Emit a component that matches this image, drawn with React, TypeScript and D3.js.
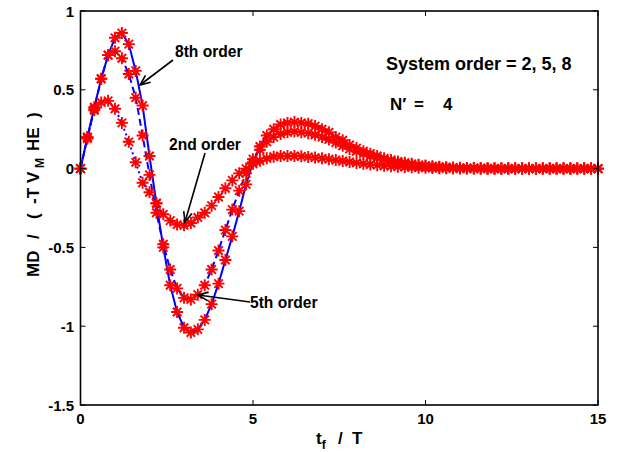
import React from "react";
import * as d3 from "d3";

const tStep = 0.2;
const order8 = [
  0, 0.2, 0.39, 0.57, 0.72, 0.83, 0.86, 0.79, 0.62, 0.4,
  0.08, -0.22, -0.5, -0.74, -0.91, -1.01, -1.04, -1.02, -0.96, -0.86,
  -0.73, -0.58, -0.43, -0.27, -0.1, 0.04, 0.14, 0.21, 0.25, 0.28,
  0.29, 0.295, 0.29, 0.285, 0.27, 0.25, 0.23, 0.2, 0.18, 0.15,
  0.13, 0.11, 0.095, 0.08, 0.065, 0.055, 0.045, 0.037, 0.03, 0.024,
  0.019, 0.015, 0.012, 0.009, 0.007, 0.005, 0.004, 0.003, 0.002, 0.001,
  0, 0, 0, 0, 0, 0, 0, 0, 0, 0,
  0, 0, 0, 0, 0, 0,
];
const order5 = [
  0, 0.19, 0.38, 0.57, 0.72, 0.745, 0.7, 0.6, 0.45, 0.21,
  -0.04, -0.28, -0.48, -0.64, -0.76, -0.82, -0.83, -0.8, -0.74, -0.64,
  -0.52, -0.39, -0.26, -0.14, -0.03, 0.06, 0.12, 0.17, 0.2, 0.22,
  0.23, 0.235, 0.23, 0.225, 0.215, 0.2, 0.185, 0.165, 0.145, 0.125,
  0.11, 0.095, 0.08, 0.068, 0.056, 0.046, 0.038, 0.031, 0.025, 0.02,
  0.016, 0.012, 0.009, 0.007, 0.005, 0.004, 0.003, 0.002, 0.001, 0,
  0, 0, 0, 0, 0, 0, 0, 0, 0, 0,
  0, 0, 0, 0, 0, 0,
];
const order2 = [
  0, 0.2, 0.37, 0.42, 0.43, 0.38, 0.29, 0.17, 0.04, -0.09,
  -0.15, -0.22, -0.29, -0.33, -0.355, -0.36, -0.345, -0.31, -0.28, -0.235,
  -0.18, -0.125, -0.075, -0.03, 0, 0.03, 0.05, 0.065, 0.075, 0.08,
  0.08, 0.08, 0.078, 0.074, 0.07, 0.065, 0.06, 0.054, 0.048, 0.042,
  0.036, 0.031, 0.026, 0.022, 0.018, 0.015, 0.012, 0.01, 0.008, 0.006,
  0.005, 0.004, 0.003, 0.002, 0.001, 0, 0, 0, 0, 0,
  0, 0, 0, 0, 0, 0, 0, 0, 0, 0,
  0, 0, 0, 0, 0, 0,
];
const xTicks = [0, 5, 10, 15];
const yTicks = [-1.5, -1, -0.5, 0, 0.5, 1];
const xTickLabels = ["0", "5", "10", "15"];
const yTickLabels = ["-1.5", "-1", "-0.5", "0", "0.5", "1"];

const FONT = "'Liberation Sans', Arial, Helvetica, sans-serif";

const left = 80.5, right = 598, top = 11, bottom = 405;
const x = d3.scaleLinear().domain([0, 15]).range([left, right]);
const y = d3.scaleLinear().domain([-1.5, 1]).range([bottom, top]);

const series = [
  { name: "2nd", values: order2, dash: "2,3" },
  { name: "5th", values: order5, dash: "7,4" },
  { name: "8th", values: order8, dash: null },
];

const r = 6;
const dd = r * 0.7071;
const star = `M${-r},0L${r},0M0,${-r}L0,${r}M${-dd},${-dd}L${dd},${dd}M${-dd},${dd}L${dd},${-dd}`;

function Arrow({ x1, y1, x2, y2 }: { x1: number; y1: number; x2: number; y2: number }) {
  const ang = Math.atan2(y2 - y1, x2 - x1);
  const L = 11, a = 0.4;
  const p1 = [x2 - L * Math.cos(ang - a), y2 - L * Math.sin(ang - a)];
  const p2 = [x2 - L * Math.cos(ang + a), y2 - L * Math.sin(ang + a)];
  return (
    <g stroke="#000" strokeWidth={1.6} fill="none">
      <line x1={x1} y1={y1} x2={x2} y2={y2} />
      <polyline points={`${p1[0]},${p1[1]} ${x2},${y2} ${p2[0]},${p2[1]}`} />
    </g>
  );
}

export default function App() {
  const line = d3
    .line<number>()
    .x((_, i) => x(i * tStep))
    .y((v) => y(v));
  return (
    <div style={{ position: "absolute", left: 0, top: 0 }}>
      <svg width={617} height={452} style={{ display: "block", background: "#fff" }}>
        <rect x={0} y={0} width={617} height={452} fill="#fff" />
        {series.map((s) => (
          <path
            key={s.name}
            d={line(s.values) || ""}
            fill="none"
            stroke="#0000ff"
            strokeWidth={2}
            strokeDasharray={s.dash || undefined}
          />
        ))}
        {series.map((s) => (
          <g key={s.name + "m"} stroke="#ff0000" strokeWidth={1.9} fill="none">
            {s.values.map((v, i) => (
              <path key={i} d={star} transform={`translate(${x(i * tStep)},${y(v)})`} />
            ))}
          </g>
        ))}
        {/* frame */}
        <rect x={left} y={top} width={right - left} height={bottom - top} fill="none" stroke="#000" strokeWidth={1.6} />
        {xTicks.map((t) => (
          <g key={"xt" + t} stroke="#000" strokeWidth={1}>
            <line x1={x(t)} x2={x(t)} y1={bottom} y2={bottom - 5} />
            <line x1={x(t)} x2={x(t)} y1={top} y2={top + 5} />
          </g>
        ))}
        {yTicks.map((t) => (
          <g key={"yt" + t} stroke="#000" strokeWidth={1}>
            <line x1={left} x2={left + 5} y1={y(t)} y2={y(t)} />
            <line x1={right} x2={right - 5} y1={y(t)} y2={y(t)} />
          </g>
        ))}
        <g fontFamily={FONT} fontWeight="bold" fontSize={15} fill="#000">
          {xTicks.map((t, i) => (
            <text key={"xl" + t} x={x(t)} y={424} textAnchor="middle">
              {xTickLabels[i]}
            </text>
          ))}
          {yTicks.map((t, i) => (
            <text key={"yl" + t} x={74} y={y(t) + 5.5} textAnchor="end">
              {yTickLabels[i]}
            </text>
          ))}
        </g>
        {/* axis labels */}
        <g fontFamily={FONT} fontWeight="bold" fill="#000">
          <text y={444} fontSize={17}>
            <tspan x={316}>t</tspan>
            <tspan fontSize={12} dy={5}>f</tspan>
            <tspan x={338} dy={-5}>/</tspan>
            <tspan x={352}>T</tspan>
          </text>
          <text transform="rotate(-90)" y={38.5} fontSize={17}>
            <tspan x={-277}>MD</tspan>
            <tspan x={-239}>/</tspan>
            <tspan x={-219}>(</tspan>
            <tspan x={-204}>-T</tspan>
            <tspan x={-183}>V</tspan>
            <tspan x={-168} dy={5} fontSize={12}>M</tspan>
            <tspan x={-151} dy={-5}>HE</tspan>
            <tspan x={-118}>)</tspan>
          </text>
        </g>
        {/* annotations */}
        <g fontFamily={FONT} fontWeight="bold" fill="#000">
          <text x={175} y={57} fontSize={15.6}>8th order</text>
          <text x={169} y={150} fontSize={15.6}>2nd order</text>
          <text x={250} y={308} fontSize={15.6}>5th order</text>
          <text x={386} y={70} fontSize={18}>System order = 2, 5, 8</text>
          <text y={110} fontSize={17}>
            <tspan x={390}>N′</tspan>
            <tspan x={414}>=</tspan>
            <tspan x={443}>4</tspan>
          </text>
        </g>
        <Arrow x1={173} y1={60} x2={140} y2={85} />
        <Arrow x1={205} y1={153} x2={185} y2={222} />
        <Arrow x1={250} y1={302} x2={198} y2={295} />
      </svg>
    </div>
  );
}
